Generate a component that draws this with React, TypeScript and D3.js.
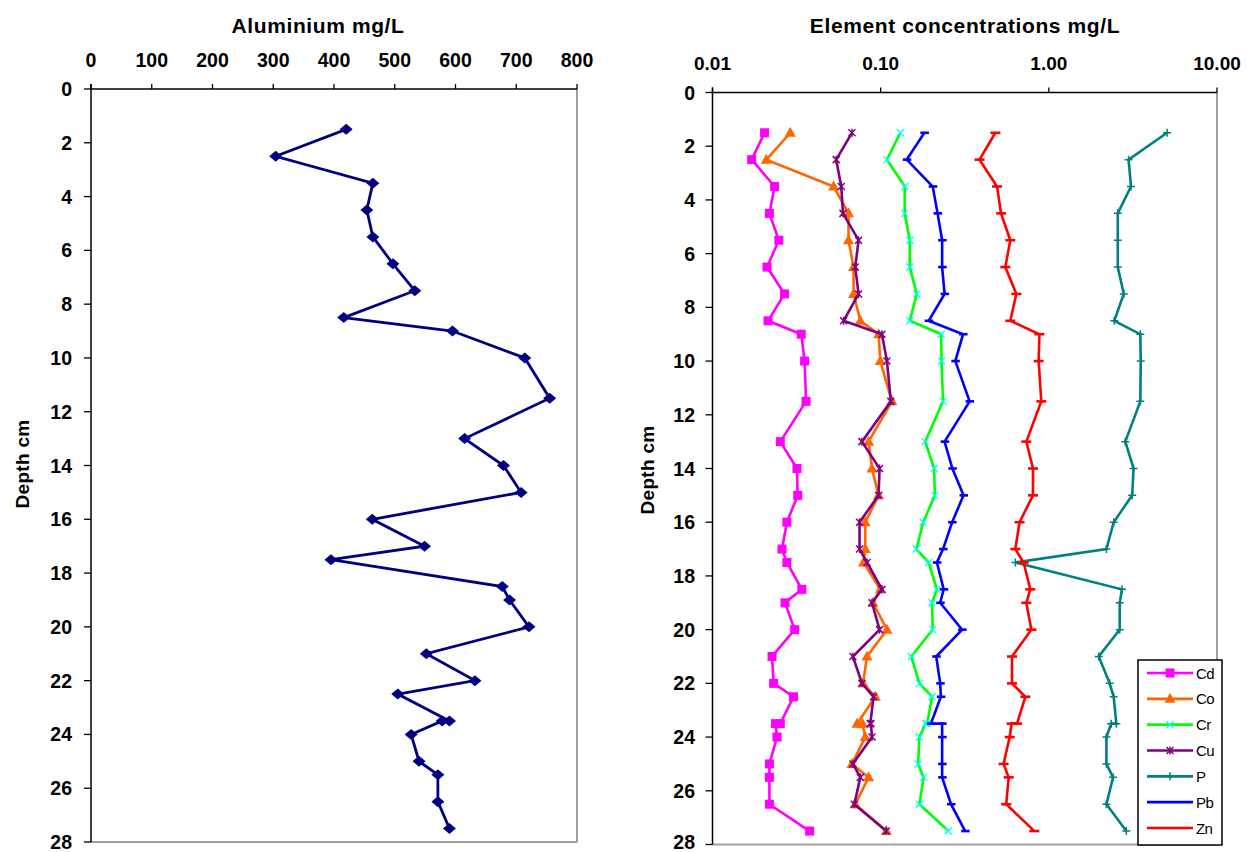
import React from "react";
import * as d3 from "d3";

const depths = [1.5, 2.5, 3.5, 4.5, 5.5, 6.5, 7.5, 8.5, 9, 10, 11.5, 13, 14, 15, 16, 17, 17.5, 18.5, 19, 20, 21, 22, 22.5, 23.5, 23.5, 24, 25, 25.5, 26.5, 27.5];
const aluminium = [420, 304, 464, 454, 464, 497, 533, 416, 595, 714, 755, 615, 679, 708, 463, 549, 395, 677, 689, 721, 552, 632, 505, 590, 578, 527, 540, 571, 571, 590];
const cd = [0.0204, 0.0171, 0.0234, 0.0218, 0.0248, 0.0211, 0.0268, 0.0214, 0.0337, 0.0353, 0.036, 0.0253, 0.0318, 0.0321, 0.0277, 0.0259, 0.0277, 0.034, 0.027, 0.0308, 0.0226, 0.0231, 0.0303, 0.0253, 0.0237, 0.0242, 0.0218, 0.0218, 0.0218, 0.0378];
const co = [0.029, 0.0209, 0.0525, 0.0644, 0.0644, 0.069, 0.069, 0.0757, 0.0972, 0.0995, 0.1167, 0.0848, 0.0888, 0.0972, 0.081, 0.081, 0.079, 0.0995, 0.09, 0.109, 0.083, 0.0785, 0.093, 0.0723, 0.078, 0.081, 0.0675, 0.0848, 0.0706, 0.108];
const cr = [0.131, 0.109, 0.139, 0.139, 0.149, 0.149, 0.164, 0.149, 0.229, 0.23, 0.235, 0.184, 0.208, 0.21, 0.179, 0.163, 0.193, 0.216, 0.202, 0.204, 0.152, 0.17, 0.202, 0.189, 0.185, 0.17, 0.167, 0.18, 0.17, 0.253];
const cu = [0.0675, 0.0544, 0.0583, 0.0597, 0.0739, 0.0706, 0.0739, 0.0602, 0.1018, 0.109, 0.115, 0.0774, 0.0985, 0.0972, 0.0749, 0.0749, 0.083, 0.1018, 0.0888, 0.0985, 0.0684, 0.0774, 0.0908, 0.0867, 0.0875, 0.0888, 0.0684, 0.0757, 0.0697, 0.108];
const p = [5.05, 2.98, 3.08, 2.57, 2.57, 2.57, 2.79, 2.45, 3.5, 3.52, 3.5, 2.85, 3.19, 3.13, 2.43, 2.2, 0.632, 2.72, 2.64, 2.64, 1.98, 2.3, 2.43, 2.52, 2.35, 2.2, 2.2, 2.41, 2.2, 2.89];
const pb = [0.182, 0.143, 0.204, 0.218, 0.232, 0.232, 0.24, 0.193, 0.309, 0.278, 0.338, 0.24, 0.267, 0.311, 0.266, 0.235, 0.216, 0.237, 0.226, 0.305, 0.214, 0.226, 0.228, 0.199, 0.232, 0.232, 0.232, 0.232, 0.262, 0.318];
const zn = [0.481, 0.387, 0.492, 0.52, 0.59, 0.551, 0.641, 0.59, 0.879, 0.87, 0.902, 0.735, 0.805, 0.805, 0.67, 0.632, 0.708, 0.776, 0.735, 0.787, 0.604, 0.604, 0.725, 0.647, 0.6, 0.585, 0.538, 0.577, 0.558, 0.82];

const alTicks = [0, 100, 200, 300, 400, 500, 600, 700, 800];
const logTicks = [0.01, 0.1, 1, 10];
const logTickLabels = ["0.01", "0.10", "1.00", "10.00"];
const depthTicks = [0, 2, 4, 6, 8, 10, 12, 14, 16, 18, 20, 22, 24, 26, 28];

type Marker = "square" | "triangle" | "x" | "star" | "plus" | "dash" | "dashWide" | "diamond";
const seriesNames = ["Cd", "Co", "Cr", "Cu", "P", "Pb", "Zn"];
const seriesValues = [cd, co, cr, cu, p, pb, zn];
const seriesColors = ["#FF00FF", "#FF6600", "#00FF00", "#800080", "#008080", "#0000FF", "#FF0000"];
const markerColors = ["#FF00FF", "#FF6600", "#00FFFF", "#800080", "#008080", "#0000FF", "#FF0000"];
const seriesMarkers: Marker[] = ["square", "triangle", "x", "star", "plus", "dash", "dashWide"];

const FONT = "'Liberation Sans', Arial, Helvetica, sans-serif";

function MarkerShape({ type, x, y, color }: { type: Marker; x: number; y: number; color: string }) {
  switch (type) {
    case "square":
      return <rect x={x - 4.5} y={y - 4.5} width={9} height={9} fill={color} />;
    case "diamond":
      return <path d={`M${x},${y - 5.5}L${x + 6.5},${y}L${x},${y + 5.5}L${x - 6.5},${y}Z`} fill={color} />;
    case "triangle":
      return <path d={`M${x},${y - 6}L${x + 5.5},${y + 4}L${x - 5.5},${y + 4}Z`} fill={color} />;
    case "x":
      return <path d={`M${x - 3.5},${y - 3.5}L${x + 3.5},${y + 3.5}M${x - 3.5},${y + 3.5}L${x + 3.5},${y - 3.5}`} stroke={color} strokeWidth={1.3} />;
    case "star":
      return <path d={`M${x - 3.5},${y - 3.5}L${x + 3.5},${y + 3.5}M${x - 3.5},${y + 3.5}L${x + 3.5},${y - 3.5}M${x},${y - 4}L${x},${y + 4}`} stroke={color} strokeWidth={1.5} />;
    case "plus":
      return <path d={`M${x - 4},${y}L${x + 4},${y}M${x},${y - 4}L${x},${y + 4}`} stroke={color} strokeWidth={1.5} />;
    case "dash":
      return <path d={`M${x - 4},${y}L${x + 4.5},${y}`} stroke={color} strokeWidth={2.6} />;
    case "dashWide":
      return <path d={`M${x - 5},${y}L${x + 5},${y}`} stroke={color} strokeWidth={2.6} />;
  }
  return null;
}

export default function App() {
  const L = { left: 91, right: 577, top: 89, bottom: 842 };
  const R = { left: 712.5, right: 1217, top: 92.5, bottom: 844.5 };

  const xAl = d3.scaleLinear().domain([0, 800]).range([L.left, L.right]);
  const yL = d3.scaleLinear().domain([0, 28]).range([L.top, L.bottom]);
  const xLog = d3.scaleLog().domain([0.01, 10]).range([R.left, R.right]);
  const yR = d3.scaleLinear().domain([0, 28]).range([R.top, R.bottom]);

  const alLine = d3
    .line<number>()
    .x((v) => xAl(v))
    .y((_, i) => yL(depths[i]));

  const logLine = d3
    .line<number>()
    .x((v) => xLog(v))
    .y((_, i) => yR(depths[i]));

  const legend = { x: 1138, y: 660, w: 84, h: 185 };
  const legendRowY = d3.scaleLinear().domain([0, 6]).range([673, 828]);

  return (
    <svg
      width={1247}
      height={852}
      style={{ position: "absolute", left: 0, top: 0, background: "#fff" }}
      fontFamily={FONT}
    >
      <rect x={0} y={0} width={1247} height={852} fill="#fff" />

      {/* ===== Left chart ===== */}
      <text x={318} y={33} textAnchor="middle" fontWeight="bold" fontSize={21} letterSpacing={0.6}>
        Aluminium mg/L
      </text>
      <line x1={L.right} y1={L.top} x2={L.right} y2={L.bottom} stroke="#a0a0a0" strokeWidth={2} />
      <line x1={L.left} y1={L.bottom} x2={L.right} y2={L.bottom} stroke="#a0a0a0" strokeWidth={2} />
      <line x1={L.left} y1={L.top} x2={L.right} y2={L.top} stroke="#000" strokeWidth={1.5} />
      {alTicks.map((t) => (
        <g key={"alt" + t}>
          <line x1={xAl(t)} y1={L.top - 5} x2={xAl(t)} y2={L.top} stroke="#000" strokeWidth={1.3} />
          <text x={xAl(t)} y={67} textAnchor="middle" fontWeight="bold" fontSize={19.5}>
            {t}
          </text>
        </g>
      ))}
      <line x1={L.left} y1={L.top - 5} x2={L.left} y2={L.bottom} stroke="#000" strokeWidth={1.5} />
      {depthTicks.map((t) => (
        <g key={"ld" + t}>
          <line x1={L.left - 7} y1={yL(t)} x2={L.left} y2={yL(t)} stroke="#000" strokeWidth={1.3} />
          <text x={72} y={yL(t) + 7} textAnchor="end" fontWeight="bold" fontSize={19.5}>
            {t}
          </text>
        </g>
      ))}
      <text
        transform={`translate(29,464) rotate(-90)`}
        textAnchor="middle"
        fontWeight="bold"
        fontSize={19}
        letterSpacing={0.3}
      >
        Depth cm
      </text>
      <path d={alLine(aluminium) || ""} fill="none" stroke="#000080" strokeWidth={2.8} />
      {aluminium.map((v, i) => (
        <MarkerShape key={"alm" + i} type="diamond" x={xAl(v)} y={yL(depths[i])} color="#000080" />
      ))}

      {/* ===== Right chart ===== */}
      <text x={965} y={33} textAnchor="middle" fontWeight="bold" fontSize={21} letterSpacing={0.6}>
        Element concentrations mg/L
      </text>
      <line x1={R.right} y1={R.top} x2={R.right} y2={R.bottom} stroke="#a0a0a0" strokeWidth={2} />
      <line x1={R.left} y1={R.bottom} x2={R.right} y2={R.bottom} stroke="#a0a0a0" strokeWidth={2} />
      <line x1={R.left} y1={R.top} x2={R.right} y2={R.top} stroke="#000" strokeWidth={1.5} />
      {logTicks.map((t, i) => (
        <g key={"lt" + t}>
          <line x1={xLog(t)} y1={R.top - 5} x2={xLog(t)} y2={R.top} stroke="#000" strokeWidth={1.3} />
          <text x={xLog(t)} y={70} textAnchor="middle" fontWeight="bold" fontSize={19}>
            {logTickLabels[i]}
          </text>
        </g>
      ))}
      <line x1={R.left} y1={R.top - 5} x2={R.left} y2={R.bottom} stroke="#000" strokeWidth={1.5} />
      {depthTicks.map((t) => (
        <g key={"rd" + t}>
          <line x1={R.left - 7} y1={yR(t)} x2={R.left} y2={yR(t)} stroke="#000" strokeWidth={1.3} />
          <text x={695} y={Math.min(yR(t) + 7, 849)} textAnchor="end" fontWeight="bold" fontSize={19.5}>
            {t}
          </text>
        </g>
      ))}
      <text
        transform={`translate(654,470) rotate(-90)`}
        textAnchor="middle"
        fontWeight="bold"
        fontSize={19}
        letterSpacing={0.3}
      >
        Depth cm
      </text>

      {seriesValues.map((vals, si) => (
        <g key={"s" + si}>
          <path d={logLine(vals) || ""} fill="none" stroke={seriesColors[si]} strokeWidth={2.6} />
          {vals.map((v, i) => (
            <MarkerShape
              key={"m" + si + "_" + i}
              type={seriesMarkers[si]}
              x={xLog(v)}
              y={yR(depths[i])}
              color={markerColors[si]}
            />
          ))}
        </g>
      ))}

      {/* legend */}
      <rect x={legend.x} y={legend.y} width={legend.w} height={legend.h} fill="#fff" stroke="#000" strokeWidth={1.5} />
      {seriesNames.map((name, i) => {
        const ly = legendRowY(i);
        return (
          <g key={"lg" + name}>
            <line x1={1147} y1={ly} x2={1193} y2={ly} stroke={seriesColors[i]} strokeWidth={2.6} />
            {seriesMarkers[i] !== "dash" && seriesMarkers[i] !== "dashWide" && (
              <MarkerShape type={seriesMarkers[i]} x={1170} y={ly} color={markerColors[i]} />
            )}
            <text x={1196} y={ly + 5.5} fontSize={15} letterSpacing={-0.6}>
              {name}
            </text>
          </g>
        );
      })}
    </svg>
  );
}
